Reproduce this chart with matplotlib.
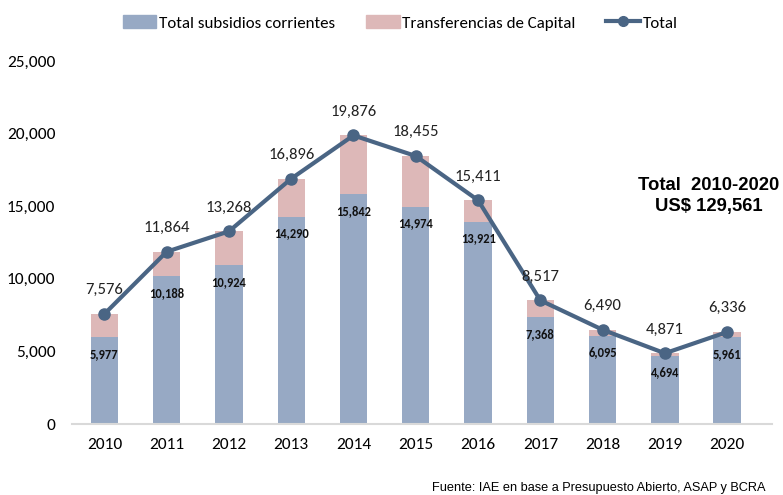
import numpy as np
import matplotlib.pyplot as plt
from matplotlib.lines import Line2D
from matplotlib.patches import Patch

years = ['2010', '2011', '2012', '2013', '2014', '2015', '2016', '2017', '2018', '2019', '2020']
subsidios = [5977, 10188, 10924, 14290, 15842, 14974, 13921, 7368, 6095, 4694, 5961]
total = [7576, 11864, 13268, 16896, 19876, 18455, 15411, 8517, 6490, 4871, 6336]
transferencias = [t - s for t, s in zip(total, subsidios)]

c_sub = '#97A9C4'
c_tr = '#DDB8B8'
c_line = '#4A6584'
lab_font = ['Carlito', 'Lato']

fig = plt.figure(figsize=(7.83, 4.95), dpi=100)
ax = fig.add_axes([72 / 783, 71 / 495, 700 / 783, 363 / 495])

x = np.arange(len(years))
ax.bar(x, subsidios, width=0.44, color=c_sub, zorder=2)
ax.bar(x, transferencias, width=0.44, bottom=subsidios, color=c_tr, zorder=2)
ax.plot(x, total, color=c_line, lw=3, marker='o', ms=8, zorder=3)

for i in range(len(years)):
    ax.annotate(f'{total[i]:,}', (x[i], total[i]), xytext=(0, 12), textcoords='offset points',
                ha='center', va='bottom', fontsize=12, family=lab_font, color='#222222')
    ax.annotate(f'{subsidios[i]:,}', (x[i], subsidios[i]), xytext=(0, -12), textcoords='offset points',
                ha='center', va='center', fontsize=9, fontweight='bold', family=lab_font,
                color='#111111')

ax.set_xlim(-0.52, 10.72)
ax.set_ylim(0, 25000)
ax.set_yticks(range(0, 25001, 5000))
ax.set_yticklabels([f'{v:,}' for v in range(0, 25001, 5000)], family=lab_font, fontsize=12.5)
ax.set_xticks(x)
ax.set_xticklabels(years, family=lab_font, fontsize=12.5)
ax.tick_params(length=0, pad=10)
ax.tick_params(axis='y', pad=12)
for s in ['top', 'right', 'left']:
    ax.spines[s].set_visible(False)
ax.spines['bottom'].set_color('#D9D9D9')
ax.spines['bottom'].set_linewidth(1.5)

handles = [Patch(color=c_sub), Patch(color=c_tr),
           Line2D([0], [0], color=c_line, lw=3, marker='o', ms=7)]
fig.legend(handles, ['Total subsidios corrientes', 'Transferencias de Capital', 'Total'],
           loc='center', bbox_to_anchor=(400 / 783, 1 - 23 / 495), ncol=3, frameon=False,
           prop={'family': lab_font, 'size': 12.2},
           handlelength=2.0, handleheight=0.8, handletextpad=0.15, columnspacing=1.8)

fig.text(709 / 783, 1 - 185 / 495, 'Total  2010-2020', ha='center', va='center',
         family='Liberation Sans', fontweight='bold', fontsize=13.3)
fig.text(709 / 783, 1 - 206 / 495, 'US$ 129,561', ha='center', va='center',
         family='Liberation Sans', fontweight='bold', fontsize=13.3)
fig.text(432 / 783, 1 - 488 / 495, 'Fuente: IAE en base a Presupuesto Abierto, ASAP y BCRA',
         ha='left', va='center', family='Liberation Sans', fontsize=9.2)

fig.savefig('out.png', dpi=100)
